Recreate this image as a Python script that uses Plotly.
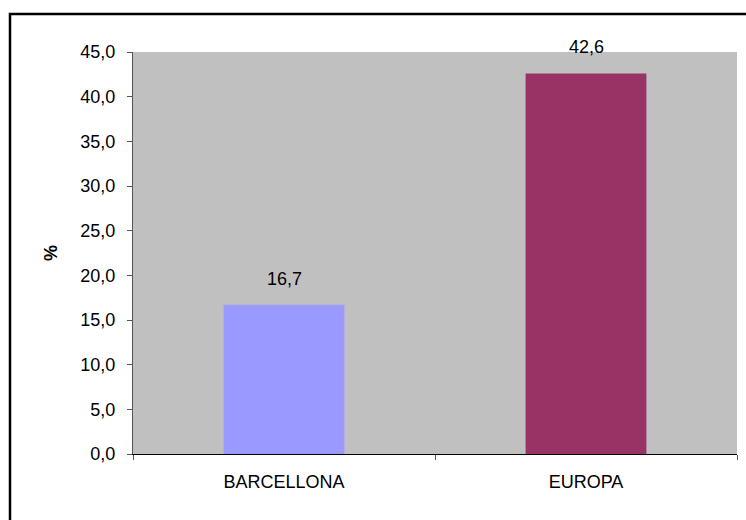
import plotly.graph_objects as go

categories = ["BARCELLONA", "EUROPA"]
values = [16.7, 42.6]
bar_colors = ["#9999FF", "#993366"]
y_ticks = [0, 5, 10, 15, 20, 25, 30, 35, 40, 45]

FONT = "Liberation Sans, Arial, sans-serif"
FS = 18

fig = go.Figure()
fig.add_trace(go.Bar(
    x=categories, y=values, width=0.4,
    marker=dict(color=bar_colors, line=dict(width=0)),
    hoverinfo="skip",
))

for c, v in zip(categories, values):
    fig.add_annotation(
        x=c, y=v, xref="x", yref="y",
        text=f"{v:.1f}".replace(".", ","),
        showarrow=False, yanchor="bottom", yshift=14,
        font=dict(family=FONT, size=FS, color="black"),
    )

# outer chart border
PW, PH = 604, 402
L, T = 133, 52
def px(x):
    return (x - L) / PW
def py(y):
    return (T + PH - y) / PH
fig.add_shape(type="rect", xref="paper", yref="paper",
              x0=px(10), x1=px(770), y0=py(14), y1=py(540),
              line=dict(color="black", width=2.5), fillcolor="rgba(0,0,0,0)",
              layer="below")

fig.update_layout(
    width=746, height=520,
    margin=dict(l=L, r=746 - L - PW, t=T, b=520 - T - PH),
    paper_bgcolor="white", plot_bgcolor="#C0C0C0",
    separators=",.",
    showlegend=False,
    font=dict(family=FONT, size=FS, color="black"),
    xaxis=dict(
        range=[-0.5, 1.5], showgrid=False, zeroline=False,
        showline=True, linecolor="black", linewidth=1,
        ticks="outside", ticklen=5, tickcolor="#555555",
        tickson="boundaries", ticklabelstandoff=11,
        tickfont=dict(family=FONT, size=FS),
    ),
    yaxis=dict(
        range=[0, 45], tickvals=y_ticks, tickformat=".1f",
        showgrid=False, zeroline=False,
        showline=True, linecolor="#555555", linewidth=1,
        ticks="outside", ticklen=5, tickcolor="#555555",
        ticklabelstandoff=8,
        tickfont=dict(family=FONT, size=FS),
        title=dict(text="<b>%</b>", standoff=18, font=dict(family=FONT, size=FS)),
    ),
)

fig.write_html("out.html")
